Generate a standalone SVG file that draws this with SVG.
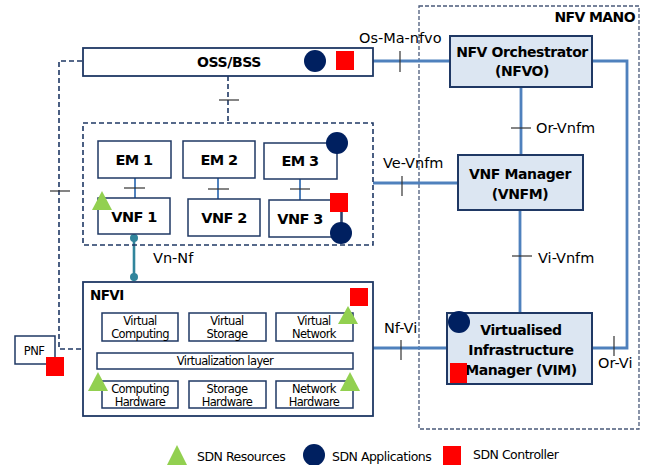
<svg xmlns="http://www.w3.org/2000/svg" width="645" height="465" viewBox="0 0 645 465">
<style>
text{font-family:"DejaVu Sans","Liberation Sans",sans-serif;fill:#000;letter-spacing:-0.6px}
.box{fill:#fff;stroke:#1f3864;stroke-width:1.8}
.mbox{fill:#dce6f2;stroke:#1f3864;stroke-width:2}
.sbox{fill:#fff;stroke:#1f3864;stroke-width:1.5}
.dash{fill:none;stroke:#1f3864;stroke-width:1.6;stroke-dasharray:5,3}
.dashl{fill:none;stroke:#4a5a7a;stroke-width:1.3;stroke-dasharray:4,2}
.conn{fill:none;stroke:#4f81bd;stroke-width:2.8}
.tick{stroke:#333;stroke-width:1.2}
.b{font-weight:bold}
.c{text-anchor:middle}
.lbl{font-size:14.5px;letter-spacing:0}
.m{font-size:14px;letter-spacing:-0.4px}
.circ{fill:#002060}
.red{fill:#ff0000}
.tri{fill:#92d050}
.lg{font-size:12.5px;letter-spacing:-0.5px}
</style>

<g id="nfv-mano"><rect x="419" y="6" width="220" height="423" class="dashl"/><text x="635" y="22" class="b" font-size="14" text-anchor="end">NFV MANO</text></g>

<g id="connectors">
<polyline points="373,61 450,61" class="conn"/>
<polyline points="592,61 627,61 627,348 592,348" class="conn"/>
<line x1="521" y1="87" x2="521" y2="155" class="conn"/>
<line x1="520" y1="210" x2="520" y2="313" class="conn"/>
<line x1="373" y1="183" x2="458" y2="183" class="conn"/>
<line x1="373" y1="348" x2="447" y2="348" class="conn"/>
<line x1="135" y1="178" x2="135" y2="198" stroke="#4f81bd" stroke-width="2"/>
<line x1="218" y1="178" x2="218" y2="199" stroke="#4f81bd" stroke-width="2"/>
<line x1="300" y1="179" x2="300" y2="200" stroke="#4f81bd" stroke-width="2"/>
<line x1="134" y1="238" x2="134" y2="281" stroke="#31859c" stroke-width="2.6"/>
<circle cx="134" cy="238" r="4" fill="#31859c"/>
<circle cx="134" cy="277" r="4" fill="#31859c"/>
<polyline points="82,61 59,61 59,349 83,349" class="dash"/>
<line x1="228" y1="76" x2="228" y2="123" class="dash"/>
<line x1="400" y1="51" x2="400" y2="72" class="tick"/>
<line x1="511" y1="128" x2="531" y2="128" class="tick"/>
<line x1="402" y1="176" x2="402" y2="196" class="tick"/>
<line x1="512" y1="256" x2="532" y2="256" class="tick"/>
<line x1="401" y1="340" x2="401" y2="360" class="tick"/>
<line x1="614" y1="336" x2="614" y2="356" class="tick"/>
<line x1="219" y1="100" x2="239" y2="100" class="tick"/>
<line x1="50" y1="191" x2="70" y2="191" class="tick"/>
<line x1="124" y1="188" x2="145" y2="188" class="tick"/>
<line x1="208" y1="189" x2="229" y2="189" class="tick"/>
<line x1="290" y1="189" x2="310" y2="189" class="tick"/>
<text x="359" y="43" class="lbl">Os-Ma-nfvo</text>
<text x="536" y="133" class="lbl">Or-Vnfm</text>
<text x="383" y="168" class="lbl">Ve-Vnfm</text>
<text x="538" y="263" class="lbl">Vi-Vnfm</text>
<text x="384" y="333" class="lbl">Nf-Vi</text>
<text x="598" y="368" class="lbl">Or-Vi</text>
<text x="153" y="263" class="lbl">Vn-Nf</text>
</g>

<g id="oss-bss"><rect x="83" y="48" width="290" height="28" class="box"/><text x="229" y="67" class="b c m">OSS/BSS</text><circle cx="315" cy="61" r="11" class="circ"/><rect x="336" y="51" width="18" height="19" class="red"/></g>

<g id="nfvo"><rect x="450" y="36" width="142" height="51" class="mbox"/><text x="522" y="57" class="b c m">NFV Orchestrator</text><text x="522" y="76" class="b c m">(NFVO)</text></g>

<g id="vnfm"><rect x="458" y="155" width="125" height="55" class="mbox"/><text x="520" y="179" class="b c m">VNF Manager</text><text x="520" y="199" class="b c m">(VNFM)</text></g>

<g id="vim"><rect x="447" y="313" width="145" height="71" class="mbox"/><text x="521" y="335" class="b c m">Virtualised</text><text x="521" y="355" class="b c m">Infrastructure</text><text x="521" y="375" class="b c m">Manager (VIM)</text><circle cx="459" cy="322" r="11" class="circ"/><rect x="450" y="363" width="17" height="20" class="red"/></g>

<g id="vnf-group"><rect x="83" y="123" width="290" height="122" class="dash"/></g>

<g id="em1"><rect x="98" y="141" width="73" height="37" class="sbox"/><text x="134" y="165" class="b c" font-size="14.5">EM 1</text></g>
<g id="em2"><rect x="183" y="141" width="72" height="37" class="sbox"/><text x="219" y="165" class="b c" font-size="14.5">EM 2</text></g>
<g id="em3"><rect x="264" y="143" width="73" height="36" class="sbox"/><text x="300" y="166" class="b c" font-size="14.5">EM 3</text><circle cx="337" cy="143" r="11" class="circ"/></g>
<g id="vnf1"><rect x="98" y="198" width="72" height="36" class="sbox"/><text x="134" y="222" class="b c" font-size="14.5">VNF 1</text><polygon points="102,191 112,210 92,210" class="tri"/></g>
<g id="vnf2"><rect x="188" y="199" width="72" height="37" class="sbox"/><text x="224" y="223" class="b c" font-size="14.5">VNF 2</text></g>
<g id="vnf3"><rect x="269" y="200" width="72" height="37" class="sbox"/><text x="300" y="224" class="b c" font-size="14.5">VNF 3</text><line x1="342" y1="210" x2="342" y2="228" stroke="#1f3864" stroke-width="1.5"/><rect x="330" y="193" width="18" height="19" class="red"/><circle cx="341" cy="233" r="11" class="circ"/></g>

<g id="nfvi"><rect x="83" y="282" width="290" height="134" class="box"/><text x="90" y="300" class="b" font-size="13.5">NFVI</text><rect x="350" y="288" width="18" height="18" class="red"/>
<rect x="102" y="313" width="76" height="28" class="sbox"/><text x="140" y="325" class="c" font-size="11.5">Virtual</text><text x="140" y="338" class="c" font-size="11.5">Computing</text>
<rect x="189" y="313" width="77" height="28" class="sbox"/><text x="227" y="325" class="c" font-size="11.5">Virtual</text><text x="227" y="338" class="c" font-size="11.5">Storage</text>
<rect x="276" y="313" width="77" height="28" class="sbox"/><text x="314" y="325" class="c" font-size="11.5">Virtual</text><text x="314" y="338" class="c" font-size="11.5">Network</text>
<polygon points="348,306 358,324 338,324" class="tri"/>
<rect x="97" y="353" width="256" height="16" class="sbox"/><text x="225" y="365" class="c" font-size="11.5">Virtualization layer</text>
<rect x="102" y="381" width="76" height="27" class="sbox"/><text x="140" y="393" class="c" font-size="11.5">Computing</text><text x="140" y="406" class="c" font-size="11.5">Hardware</text>
<rect x="189" y="381" width="77" height="27" class="sbox"/><text x="227" y="393" class="c" font-size="11.5">Storage</text><text x="227" y="406" class="c" font-size="11.5">Hardware</text>
<rect x="276" y="381" width="77" height="27" class="sbox"/><text x="314" y="393" class="c" font-size="11.5">Network</text><text x="314" y="406" class="c" font-size="11.5">Hardware</text>
<polygon points="98,372 108,391 88,391" class="tri"/>
<polygon points="350,372 360,391 340,391" class="tri"/>
</g>

<g id="pnf"><rect x="15" y="336" width="40" height="28" class="sbox"/><text x="34" y="355" class="c" font-size="11.5">PNF</text><rect x="46" y="357" width="18" height="19" class="red"/></g>

<g id="legend">
<polygon points="177,445 187,465 167,465" class="tri"/><text x="197" y="461" class="lg">SDN Resources</text>
<circle cx="314" cy="455" r="11" class="circ"/><text x="332" y="461" class="lg">SDN Applications</text>
<rect x="443" y="446" width="18" height="19" class="red"/><text x="473" y="459" class="lg">SDN Controller</text>
</g>
</svg>
